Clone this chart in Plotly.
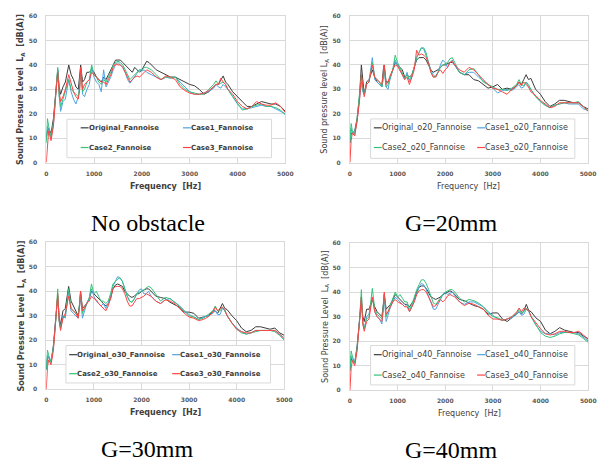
import plotly.graph_objects as go

W, H = 614, 468

# Frequency grid [Hz] shared by every spectrum
freq = [0, 25, 50, 100, 150, 200, 240, 270, 300, 350,
        400, 470, 520, 570, 620, 670, 700, 720, 760, 800,
        850, 900, 950, 1000, 1050, 1100, 1150, 1200, 1250, 1300,
        1350, 1400, 1450, 1500, 1550, 1600, 1650, 1700, 1750, 1800,
        1850, 1900, 1950, 2000, 2050, 2100, 2150, 2200, 2300, 2400,
        2500, 2600, 2700, 2800, 2900, 3000, 3100, 3200, 3300, 3400,
        3500, 3550, 3600, 3650, 3700, 3750, 3800, 3900, 4000, 4100,
        4200, 4300, 4400, 4500, 4600, 4700, 4800, 4900, 5000]

# ---- No obstacle ----
noobs_original = [10, 13, 14, 12, 18, 28, 38, 31, 28, 31,
                  33, 40, 36, 34, 31, 30, 35, 40, 33, 34,
                  37, 37, 38, 37, 35, 34, 33, 35, 34, 36,
                  38, 40, 42, 42, 42, 41, 40, 39, 38, 37,
                  39, 38, 37, 38, 40, 41.5, 41, 40, 38, 37,
                  36, 35, 35, 34, 33, 32, 31.5, 30, 28, 29,
                  31, 32, 32, 34, 35.5, 33, 32, 29, 27, 25,
                  23, 23, 24, 25, 24.5, 24, 24, 23, 21]
noobs_case1 = [9, 15, 13, 11, 16, 29, 38, 28, 21, 25,
               26, 34, 29, 26, 24, 27, 32, 38, 28, 27,
               30, 32, 39, 35, 33, 32, 29, 38, 31, 33,
               35, 38, 40, 41, 40, 39, 37, 34, 32.5, 34,
               35, 37, 38, 37.5, 38, 37, 36.5, 36, 35, 34,
               35, 34.5, 35, 33, 31, 29, 28, 28, 28.5, 29,
               30.5, 32, 31, 30.5, 32, 31, 30, 27, 24, 22,
               22, 22.5, 23, 23.5, 23, 23, 22, 21, 20]
noobs_case2 = [8, 18, 15, 10, 16, 30, 39, 27, 23, 26,
               29, 34, 30, 29, 28, 27, 31, 38, 29, 30,
               33, 34, 40, 36, 35, 33, 32, 34, 33, 35,
               37, 40, 41, 41.5, 41, 40, 38, 36, 34, 35,
               36, 37, 38, 38, 39, 39, 38.5, 38, 36, 34,
               35, 35, 35, 32, 30, 29, 28.5, 28, 28, 30,
               32, 33.5, 32, 32.5, 33, 32, 30, 27, 24, 21.5,
               22, 23, 23.5, 24, 23, 23, 22.5, 21.5, 19.5]
noobs_case3 = [0, 8, 13, 9, 15, 28, 37, 29, 25, 27,
               30, 36, 32, 29, 27, 26, 30, 39, 30, 32,
               33, 34, 37, 36, 35, 34, 33, 33, 32, 34,
               36, 39, 40.5, 40, 40, 39, 37, 35, 33, 34,
               35, 35.5, 35, 36, 37, 38, 37.5, 37, 35, 34,
               35.5, 35, 34, 31, 29.5, 28.5, 28, 28, 28.5, 29.5,
               31, 32, 32, 34.5, 33, 32, 30, 28, 25, 23,
               22, 23, 25, 24, 23.5, 23.5, 24.5, 23, 20.5]

# ---- G = 20 mm ----
g20_original = [8, 12, 12, 13, 18, 27, 40, 33, 28, 33,
                34, 38, 35, 33, 32, 31, 38, 40, 33, 33,
                35, 38, 41, 40, 39, 38, 35, 36, 35, 36,
                39, 42, 43, 43, 43, 42, 40, 38, 37, 37.5,
                38, 39, 40, 40, 40.5, 41, 41, 40, 37, 36,
                36, 34, 33.5, 32, 30.5, 31, 32, 30, 30.5, 30,
                31.5, 33, 32, 34, 36, 34, 34.5, 30, 28, 25,
                23, 24, 25.5, 25.5, 25, 24.5, 24.5, 23, 22]
g20_case1 = [8, 14, 12, 12, 17, 26, 33, 29, 28, 32,
             33, 43, 34, 33, 32, 31, 34, 38, 31, 30,
             35, 38, 42, 40, 38, 36, 34, 37, 33, 35,
             39, 43, 45, 47, 46.5, 44, 41, 38, 36, 35,
             37, 40, 42, 41, 39, 41, 42, 40, 37, 36,
             37, 37, 35, 33.5, 32, 30.5, 28.5, 29.5, 30, 29.5,
             31, 32, 30.5, 31, 33, 31, 30, 27, 25, 23.5,
             22.5, 23.5, 24, 24.5, 24, 24, 24, 22, 21.5]
g20_case2 = [8, 16, 13, 11, 18, 27, 36, 30, 28, 32,
             33, 41, 35, 34, 33, 31, 35, 39, 31, 32,
             35, 38, 44, 41, 39, 37, 34.5, 36, 34, 35.5,
             39, 43, 45, 47, 47, 45, 41, 37, 35, 35.5,
             37, 39, 40, 40.5, 41, 42.5, 43, 41, 37, 36,
             38, 38.5, 36, 33, 32, 31, 30, 30, 29.5, 30.5,
             32, 34, 32, 31.5, 33, 32, 30, 27, 25, 23.5,
             22.5, 23.5, 24, 24.5, 24.5, 24.5, 25, 23, 21]
g20_case3 = [0, 9, 12, 11, 17, 25, 36, 30, 27, 32,
             33, 40, 35, 34, 33, 32, 36, 40, 32, 33,
             36, 38, 40, 39.5, 38, 36, 34, 35, 32, 35,
             38, 46, 44, 44.5, 44, 43, 41, 37, 35, 35,
             37, 38, 36.5, 38, 39, 41, 41.5, 40, 38, 37,
             39, 38, 36, 34, 32, 30.5, 30, 29, 28, 30,
             31.5, 33, 31.5, 33, 32, 31, 29, 27.5, 25.5, 24,
             22.5, 23, 24.5, 24.5, 24.5, 24.5, 24.5, 23, 21]

# ---- G = 30 mm ----
g30_original = [8, 13, 13, 11, 18, 28, 38, 30, 26, 32,
                33, 42, 36, 34, 32, 30, 35, 40, 33, 34,
                35, 37, 40, 39, 38, 37, 36, 35, 34, 35,
                37, 41, 42.5, 43, 42.5, 42, 40, 39, 38, 37.5,
                38, 39, 39, 40, 40.5, 41, 41, 40, 38, 37.5,
                37, 35.5, 34.5, 33.5, 31.5, 31.5, 31, 29, 29.5, 30,
                32, 32, 31, 33, 35, 33, 32.5, 30, 28, 25,
                23.5, 24, 25.5, 25.5, 25, 24.5, 25, 23, 22]
g30_case1 = [8, 14, 13, 11, 17, 27, 38, 28, 25, 30,
             29, 40, 32, 31, 30, 29, 34, 38, 29, 32,
             35, 37, 41, 38, 36, 35, 34, 35, 33, 35,
             38, 42, 44, 46, 45.5, 44, 41, 38, 36, 35.5,
             37, 39, 40.5, 41, 39, 39, 40, 38, 36, 35,
             36.5, 37, 35.5, 34, 32, 30.5, 29.5, 28.5, 29.5, 30,
             31, 32, 30.5, 30.5, 33, 32, 30, 27, 25, 23.5,
             22.5, 23, 24, 24, 24, 24, 24, 22.5, 21]
g30_case2 = [8, 16, 14, 11, 17, 28, 41, 28, 25, 29,
             30, 41, 33, 32, 31, 30, 35, 39, 31, 33,
             35, 37, 43, 39, 40, 38, 36, 36, 35, 36,
             39, 43, 44, 45, 45.5, 44, 41, 38, 36, 35.5,
             37, 39, 39.5, 40, 40.5, 41.5, 42, 41.5, 38.5, 36,
             37.5, 37, 35.5, 34, 32, 30, 29.5, 28.5, 29, 30.5,
             32, 34, 32, 32, 33.5, 32, 30, 27, 24.5, 23,
             22.5, 23, 23.5, 24, 24, 24, 23.5, 22, 20]
g30_case3 = [0, 9, 12, 10, 16, 27, 39, 28, 24, 29,
             31, 38, 33, 32, 31, 29, 34, 40, 32, 33,
             35, 36, 38, 37, 36.5, 35, 34, 33, 32, 34,
             37, 41, 42, 42, 42, 41, 39, 36, 34, 34,
             35.5, 37, 37, 37.5, 38, 39, 38.5, 38, 36, 35,
             36.5, 36, 35, 33, 31, 29.5, 29, 28, 28.5, 29.5,
             31.5, 33.5, 32, 33, 33.5, 32.5, 30, 27, 24.5, 23.5,
             23, 23, 24, 24, 24, 24, 24, 22.5, 20.5]

# ---- G = 40 mm ----
g40_original = [8, 13, 12, 11, 18, 27, 36, 30, 28, 33,
                33, 37, 34, 32, 31, 30, 35, 39, 33, 34,
                35, 37, 39, 38, 37, 36, 35, 35, 34, 35.5,
                37, 40, 42, 42.5, 42.5, 41.5, 40, 38, 37.5, 37,
                37.5, 38, 39, 39.5, 40, 40.5, 40, 39, 37, 36.5,
                35.5, 34.5, 34, 33, 31, 31.5, 31.5, 29, 28, 29.5,
                31, 32, 31, 32.5, 35, 32.5, 32, 29.5, 28, 24.5,
                23, 24, 25.5, 24.5, 24, 23.5, 23.5, 22, 21]
g40_case1 = [8, 14, 13, 11, 17, 27, 38, 28, 25, 30,
             31, 38, 32, 30, 29, 27, 33, 38, 28, 31,
             34, 36, 38, 37, 36, 35, 34, 35, 32, 34,
             37, 40, 42, 43.5, 43, 41, 38, 35, 33, 33,
             35, 37, 39, 40, 39, 39.5, 40, 38.5, 36, 35,
             36, 36, 35, 34, 32, 30.5, 29, 28.5, 29, 29.5,
             31, 32, 30.5, 31, 33, 32, 30, 26.5, 24, 23,
             23, 22.5, 23.5, 23.5, 23.5, 23.5, 23, 21.5, 20]
g40_case2 = [8, 16, 14, 11, 17, 28, 41, 27, 25, 29,
             30, 41.5, 33, 31, 30, 29, 34, 39, 30, 32,
             35, 37, 40, 38, 39, 37.5, 36, 36, 33, 35,
             38, 41, 43, 45, 45, 43.5, 41, 38, 35.5, 35,
             36.5, 38, 39, 40, 40.5, 41, 41, 40, 37.5, 36,
             37, 36.5, 35.5, 34, 31.5, 30, 29.5, 28.5, 29, 30,
             31.5, 33, 31.5, 32, 33.5, 32.5, 30, 26.5, 23.5, 22,
             21.5, 22, 23, 23.5, 23.5, 23, 22.5, 21, 19.5]
g40_case3 = [0, 9, 12, 10, 16, 27, 38, 27, 24, 28,
             29, 38, 32, 30, 29, 28, 33, 40, 31, 32,
             34, 36, 37, 36, 35.5, 35, 34, 34, 32, 34,
             36, 39, 40.5, 41, 41, 40, 38, 36, 34, 34.5,
             36, 37, 36, 37, 38.5, 39, 38.5, 38, 36, 34.5,
             35.5, 35, 34, 33, 30.5, 29, 29, 28.5, 29, 30,
             32, 33.5, 32, 33.5, 33, 32.5, 30, 27.5, 25, 23,
             22.5, 23, 24, 24, 23.5, 23.5, 24, 22.5, 20.5]

series_colors = ["#3c3c3c", "#4ea3e0", "#35c27a", "#ff4343"]

panels = [
    dict(caption="No obstacle",
         names=["Original_Fannoise", "Case1_Fannoise", "Case2_Fannoise", "Case3_Fannoise"],
         values=[noobs_original, noobs_case1, noobs_case2, noobs_case3],
         ytitle="Sound Pressure Level\u00a0\u00a0L<sub>A</sub>\u00a0\u00a0[dB(A)]",
         bold=True, legend_font=7,
         box=(45, 288, 12.3, 161),
         legend_box=(66, 117, 274, 156), rows=(125.7, 145.7), cols=(80, 184),
         cap_x=148, cap_y=222),
    dict(caption="G=20mm",
         names=["Original_o20_Fannoise", "Case1_o20_Fannoise", "Case2_o20_Fannoise", "Case3_o20_Fannoise"],
         values=[g20_original, g20_case1, g20_case2, g20_case3],
         ytitle="Sound pressure level L<sub>A</sub>\u00a0\u00a0[dB(A)]",
         bold=False, legend_font=8,
         box=(353.7, 595.7, 12.3, 161),
         legend_box=(374.7, 116.7, 582.3, 156.7), rows=(125.7, 145.7), cols=(378, 483),
         cap_x=457, cap_y=222),
    dict(caption="G=30mm",
         names=["Original_o30_Fannoise", "Case1_o30_Fannoise", "Case2_o30_Fannoise", "Case3_o30_Fannoise"],
         values=[g30_original, g30_case1, g30_case2, g30_case3],
         ytitle="Sound Pressure Level\u00a0\u00a0L<sub>A</sub>\u00a0\u00a0[dB(A)]",
         bold=True, legend_font=7,
         box=(45, 287, 242, 391),
         legend_box=(65, 346.7, 273, 384.7), rows=(356, 375.3), cols=(68.3, 173),
         cap_x=148, cap_y=452),
    dict(caption="G=40mm",
         names=["Original_o40_Fannoise", "Case1_o40_Fannoise", "Case2_o40_Fannoise", "Case3_o40_Fannoise"],
         values=[g40_original, g40_case1, g40_case2, g40_case3],
         ytitle="Sound Pressure Level\u00a0\u00a0L<sub>A</sub>\u00a0\u00a0[dB(A)]",
         bold=False, legend_font=8,
         box=(353.7, 596, 242.7, 392),
         legend_box=(374.7, 346.7, 582.3, 386.7), rows=(356, 376.7), cols=(378, 483),
         cap_x=457, cap_y=453),
]


def px(x):
    return x / W


def py(y):
    return 1 - y / H


fig = go.Figure()
layout = dict(width=W, height=H, autosize=False,
              margin=dict(l=0, r=0, t=0, b=0),
              paper_bgcolor="white", plot_bgcolor="white",
              showlegend=False)
shapes, annotations = [], []

grid = "#d9d9d9"
tick_font = dict(family="DejaVu Sans", size=6, color="#595959", weight="bold")
text_color = "#404040"

for i, p in enumerate(panels):
    n = "" if i == 0 else str(i + 1)
    x0, x1, y0, y1 = p["box"]
    weight = "bold" if p["bold"] else "normal"

    for name, vals, col in zip(p["names"], p["values"], series_colors):
        fig.add_trace(go.Scatter(x=freq, y=vals, mode="lines", name=name,
                                 line=dict(color=col, width=1),
                                 xaxis="x" + n, yaxis="y" + n,
                                 hoverinfo="skip"))

    layout["xaxis" + n] = dict(domain=[px(x0), px(x1)], anchor="y" + n,
                               range=[0, 5000], dtick=1000, tick0=0,
                               showgrid=True, gridcolor=grid, gridwidth=1,
                               zeroline=False, showline=True, mirror=True,
                               linecolor=grid, linewidth=1,
                               ticks="", ticklabelstandoff=5,
                               tickfont=tick_font, fixedrange=True)
    layout["yaxis" + n] = dict(domain=[py(y1), py(y0)], anchor="x" + n,
                               range=[0, 60], dtick=10, tick0=0,
                               showgrid=True, gridcolor=grid, gridwidth=1,
                               zeroline=False, showline=True, mirror=True,
                               linecolor=grid, linewidth=1,
                               ticks="", ticklabelstandoff=7,
                               tickfont=tick_font, fixedrange=True)

    # axis titles
    annotations.append(dict(text="Frequency\u00a0\u00a0[Hz]", xref="paper", yref="paper",
                            x=px((x0 + x1) / 2), y=py(y1 + 24), xanchor="center", yanchor="middle",
                            showarrow=False,
                            font=dict(family="DejaVu Sans", size=8, color=text_color, weight=weight)))
    annotations.append(dict(text=p["ytitle"], xref="paper", yref="paper",
                            x=px(x0 - 25), y=py((y0 + y1) / 2), xanchor="center", yanchor="middle",
                            textangle=-90, showarrow=False,
                            font=dict(family="DejaVu Sans", size=8, color=text_color, weight=weight)))

    # legend box with one short line sample per series
    lx0, ly0, lx1, ly1 = p["legend_box"]
    shapes.append(dict(type="rect", xref="paper", yref="paper", layer="above",
                       x0=px(lx0), x1=px(lx1), y0=py(ly1), y1=py(ly0),
                       fillcolor="white", line=dict(color="#d9d9d9", width=1)))
    for k, (name, col) in enumerate(zip(p["names"], series_colors)):
        ry = p["rows"][k // 2]
        cx = p["cols"][k % 2]
        shapes.append(dict(type="line", xref="paper", yref="paper", layer="above",
                           x0=px(cx), x1=px(cx + 8), y0=py(ry), y1=py(ry),
                           line=dict(color=col, width=1.2)))
        annotations.append(dict(text=name, xref="paper", yref="paper",
                                x=px(cx + 7), y=py(ry), xanchor="left", yanchor="middle",
                                showarrow=False, borderpad=0,
                                font=dict(family="DejaVu Sans", size=p["legend_font"],
                                          color=text_color, weight=weight)))

    # caption under each chart
    annotations.append(dict(text=p["caption"], xref="paper", yref="paper",
                            x=px(p["cap_x"]), y=py(p["cap_y"]),
                            xanchor="center", yanchor="middle", showarrow=False,
                            font=dict(family="Liberation Serif", size=24, color="black")))

layout["shapes"] = shapes
layout["annotations"] = annotations
fig.update_layout(**layout)

fig.write_html("out.html")
